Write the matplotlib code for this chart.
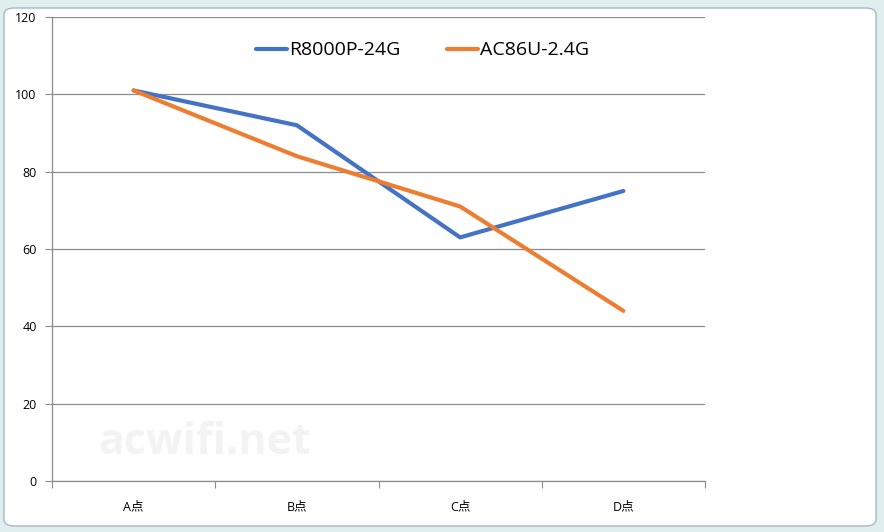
import matplotlib
matplotlib.use("Agg")
import matplotlib.pyplot as plt
from matplotlib.patches import FancyBboxPatch

plt.rcParams['font.family'] = ['Open Sans', 'Noto Sans CJK SC', 'DejaVu Sans']

categories = ["A点", "B点", "C点", "D点"]
series_names = ["R8000P-24G", "AC86U-2.4G"]
r8000p = [101, 92, 63, 75]
ac86u = [101, 84, 71, 44]
yticks = [0, 20, 40, 60, 80, 100, 120]

W, H = 884, 532
fig = plt.figure(figsize=(W / 100, H / 100), dpi=100)
fig.patch.set_facecolor("#dfeff0")

# chart area (white rounded frame)
frame = FancyBboxPatch((4 / W, 6 / H), (W - 12) / W, (H - 14) / H,
                       boxstyle="round,pad=0,rounding_size=0.012",
                       transform=fig.transFigure, facecolor="white",
                       edgecolor="#a9b7c0", linewidth=1.0, zorder=-10)
fig.patches.append(frame)

ax = fig.add_axes([52 / W, 1 - 481 / H, (705 - 52) / W, (481 - 17) / H], zorder=1)
ax.set_facecolor("none")
x = list(range(len(categories)))
ax.plot(x, r8000p, color="#4472C4", lw=3.0, label=series_names[0], solid_capstyle="round", zorder=3)
ax.plot(x, ac86u, color="#ED7D31", lw=3.0, label=series_names[1], solid_capstyle="round", zorder=3)

ax.set_xlim(-0.5, len(categories) - 0.5)
ax.set_ylim(0, 120)
ax.set_yticks(yticks)
ax.set_yticklabels([str(v) for v in yticks], fontsize=9)
ax.yaxis.grid(True, color="#8c8c8c", lw=0.9)
ax.set_axisbelow(True)

ax.set_xticks([i - 0.5 for i in range(len(categories) + 1)])
ax.set_xticklabels([])
ax.set_xticks(x, minor=True)
ax.set_xticklabels(categories, minor=True, fontsize=9)
ax.tick_params(axis="x", which="minor", length=0, pad=14)
ax.tick_params(axis="x", which="major", length=5, color="#8c8c8c", direction="out")
ax.tick_params(axis="y", length=5, color="#8c8c8c", direction="out", pad=6)

for s in ["top", "right"]:
    ax.spines[s].set_visible(False)
for s in ["left", "bottom"]:
    ax.spines[s].set_color("#8c8c8c")
    ax.spines[s].set_linewidth(0.9)

leg = ax.legend(loc="upper center", bbox_to_anchor=(0.567, 0.985), ncol=2, frameon=False,
                fontsize=14, handlelength=1.6, handletextpad=0.1, columnspacing=2.4)

ax.text(205 / W, 1 - 443 / H, "acwifi.net", transform=fig.transFigure, fontsize=31,
        fontweight="bold", color="#f3f3f3", ha="center", va="center", zorder=1)

fig.savefig("out.png", dpi=100)
